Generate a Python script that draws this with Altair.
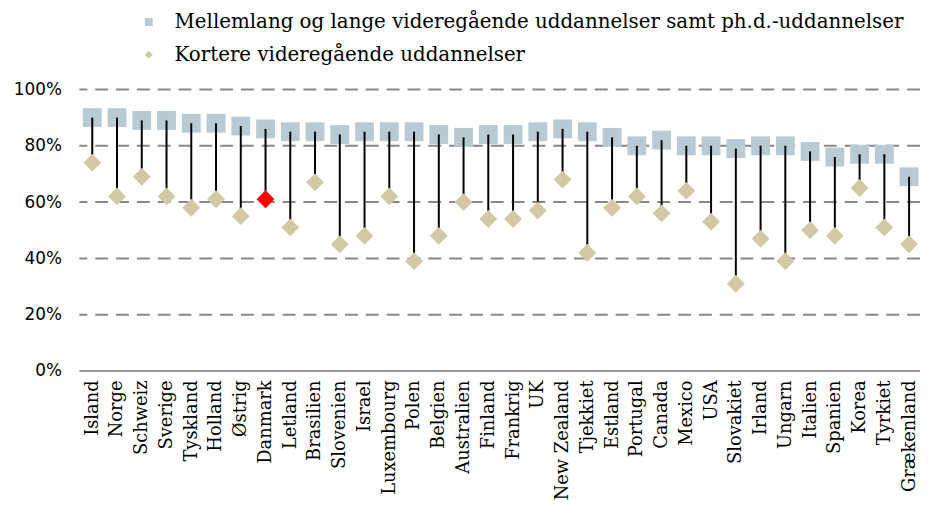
import altair as alt
import pandas as pd

countries = ["Island", "Norge", "Schweiz", "Sverige", "Tyskland", "Holland", "Østrig",
             "Danmark", "Letland", "Brasilien", "Slovenien", "Israel", "Luxembourg", "Polen",
             "Belgien", "Australien", "Finland", "Frankrig", "UK", "New Zealand", "Tjekkiet",
             "Estland", "Portugal", "Canada", "Mexico", "USA", "Slovakiet", "Irland", "Ungarn",
             "Italien", "Spanien", "Korea", "Tyrkiet", "Grækenland"]
long_edu = [90, 90, 89, 89, 88, 88, 87, 86, 85, 85, 84, 85, 85, 85, 84, 83, 84, 84, 85, 86,
            85, 83, 80, 82, 80, 80, 79, 80, 80, 78, 76, 77, 77, 69]
short_edu = [74, 62, 69, 62, 58, 61, 55, 61, 51, 67, 45, 48, 62, 39, 48, 60, 54, 54, 57, 68,
             42, 58, 62, 56, 64, 53, 31, 47, 39, 50, 48, 65, 51, 45]
series_names = ["Mellemlang og lange videregående uddannelser samt ph.d.-uddannelser",
                "Kortere videregående uddannelser"]
highlight = "Danmark"
grid_values = [20, 40, 60, 80, 100]
tick_values = [0, 20, 40, 60, 80, 100]

wide = pd.DataFrame({"land": countries, "lang": long_edu, "kort": short_edu})
long_df = pd.DataFrame({
    "land": countries * 2,
    "værdi": long_edu + short_edu,
    "serie": [series_names[0]] * len(countries) + [series_names[1]] * len(countries),
})
grid_df = pd.DataFrame({"v": grid_values})
base_df = pd.DataFrame({"v": [0]})

SQ = "#b8cad4"
DI = "#d2c9a4"
FONT_SERIF = "DejaVu Serif"
FONT_SANS = "DejaVu Sans"

xscale = alt.Scale(type="point", range=[13, 837], padding=0)
xenc = alt.X("land:N", sort=countries, scale=xscale,
             axis=alt.Axis(title=None, labelAngle=-90, labelFont=FONT_SERIF, labelFontSize=18,
                           labelColor="#000", domain=False, ticks=False, labelPadding=9,
                           labelLimit=300))
yscale = alt.Scale(domain=[0, 100], nice=False)
yenc = alt.Y("værdi:Q", scale=yscale,
             axis=alt.Axis(title=None, values=tick_values, labelExpr="datum.value + '%'",
                           labelFont=FONT_SANS, labelFontSize=17, labelColor="#000",
                           domain=False, ticks=False, grid=False, labelPadding=18))

color_scale = alt.Scale(domain=series_names, range=[SQ, DI])
shape_scale = alt.Scale(domain=series_names, range=["square", "diamond"])
legend = alt.Legend(title=None, orient="none", legendX=60, legendY=-78,
                    labelFont=FONT_SERIF, labelFontSize=20, labelColor="#000",
                    labelLimit=1000, symbolSize=64, symbolStrokeWidth=0,
                    labelOffset=16, rowPadding=13, symbolOpacity=1)

grid = alt.Chart(grid_df).mark_rule(color="#888888", strokeWidth=2, strokeDash=[13, 8]).encode(
    y=alt.Y("v:Q", scale=yscale))
baseline = alt.Chart(base_df).mark_rule(color="#999999", strokeWidth=2).encode(
    y=alt.Y("v:Q", scale=yscale))

def series_layer(name, size):
    return alt.Chart(long_df).transform_filter(alt.datum.serie == name).mark_point(
        filled=True, opacity=1, strokeWidth=0, size=size).encode(
        x=xenc, y=yenc,
        color=alt.Color("serie:N", scale=color_scale, legend=legend),
        shape=alt.Shape("serie:N", scale=shape_scale, legend=legend),
    )

squares = series_layer(series_names[0], 361)
diamonds = series_layer(series_names[1], 324)

stems = alt.Chart(wide).mark_rule(color="#000000", strokeWidth=2).encode(
    x=alt.X("land:N", sort=countries, scale=xscale),
    y=alt.Y("lang:Q", scale=yscale),
    y2="kort:Q",
)

red = alt.Chart(wide).transform_filter(alt.datum.land == highlight).mark_point(
    filled=True, shape="diamond", size=324, color="#ff0000", opacity=1, strokeWidth=0).encode(
    x=alt.X("land:N", sort=countries, scale=xscale),
    y=alt.Y("kort:Q", scale=yscale),
)

chart = alt.layer(grid, baseline, squares, stems, diamonds, red).properties(
    width=848, height=284,
    autosize=alt.AutoSizeParams(type="none"),
    padding={"left": 72, "top": 80, "right": 0, "bottom": 134},
).configure_view(stroke=None).configure_axis(grid=False)

chart.save("out.html", embed_options={"renderer": "svg", "actions": False})
